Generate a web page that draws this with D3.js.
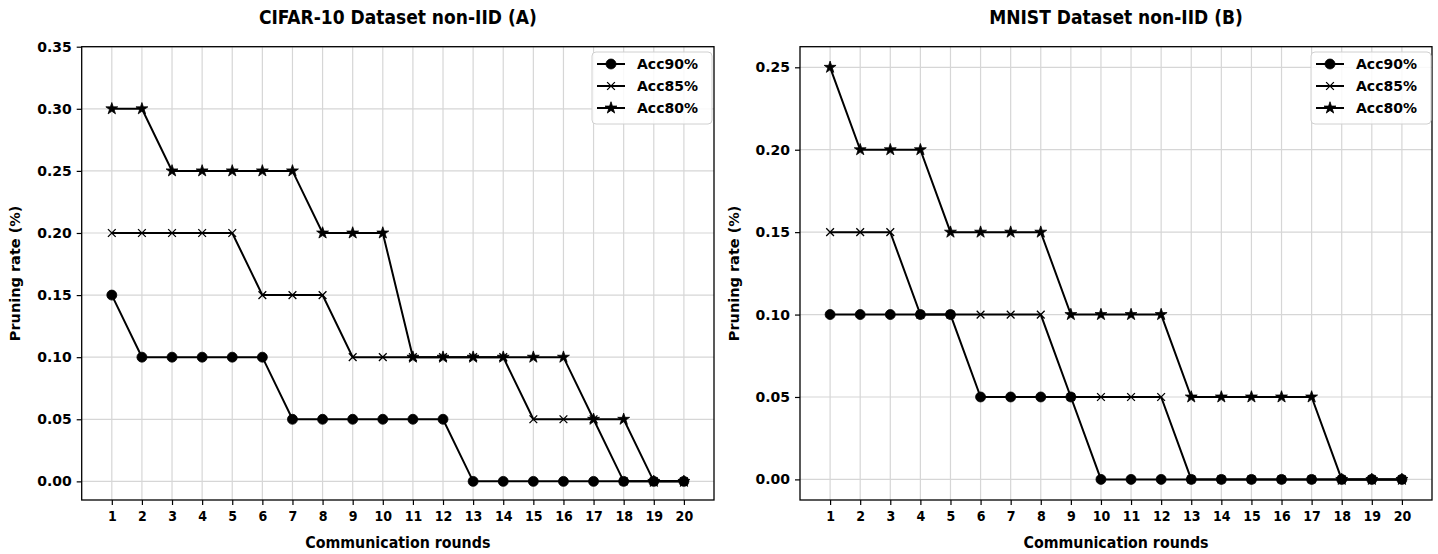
<!DOCTYPE html>
<html>
<head>
<meta charset="utf-8">
<script src="https://cdn.jsdelivr.net/npm/d3@7"></script>
<style>
  body { margin: 0; background: #fff; }
  text { font-family: 'DejaVu Sans', sans-serif; font-weight: bold; fill: #000; }
</style>
</head>
<body>
<div class="chart"></div>
<script>
const svgWidth = 1438;
const svgHeight = 554;

const rounds = [1, 2, 3, 4, 5, 6, 7, 8, 9, 10, 11, 12, 13, 14, 15, 16, 17, 18, 19, 20];
const seriesNames = ['Acc90%', 'Acc85%', 'Acc80%'];

// CIFAR-10 (A)
const cifarAcc90 = [0.15, 0.10, 0.10, 0.10, 0.10, 0.10, 0.05, 0.05, 0.05, 0.05, 0.05, 0.05, 0, 0, 0, 0, 0, 0, 0, 0];
const cifarAcc85 = [0.20, 0.20, 0.20, 0.20, 0.20, 0.15, 0.15, 0.15, 0.10, 0.10, 0.10, 0.10, 0.10, 0.10, 0.05, 0.05, 0.05, 0, 0, 0];
const cifarAcc80 = [0.30, 0.30, 0.25, 0.25, 0.25, 0.25, 0.25, 0.20, 0.20, 0.20, 0.10, 0.10, 0.10, 0.10, 0.10, 0.10, 0.05, 0.05, 0, 0];
const cifarTicks = [0, 0.05, 0.10, 0.15, 0.20, 0.25, 0.30, 0.35];

// MNIST (B)
const mnistAcc90 = [0.10, 0.10, 0.10, 0.10, 0.10, 0.05, 0.05, 0.05, 0.05, 0, 0, 0, 0, 0, 0, 0, 0, 0, 0, 0];
const mnistAcc85 = [0.15, 0.15, 0.15, 0.10, 0.10, 0.10, 0.10, 0.10, 0.05, 0.05, 0.05, 0.05, 0, 0, 0, 0, 0, 0, 0, 0];
const mnistAcc80 = [0.25, 0.20, 0.20, 0.20, 0.15, 0.15, 0.15, 0.15, 0.10, 0.10, 0.10, 0.10, 0.05, 0.05, 0.05, 0.05, 0.05, 0, 0, 0];
const mnistTicks = [0, 0.05, 0.10, 0.15, 0.20, 0.25];

const gridColor = '#d6d6d6';
const condensed = "'DejaVu Sans Condensed', 'DejaVu Sans', sans-serif";

// custom "x" marker
const symbolCross = {
  draw(ctx, size) {
    const r = Math.sqrt(size) / 2;
    ctx.moveTo(-r, -r); ctx.lineTo(r, r);
    ctx.moveTo(-r, r); ctx.lineTo(r, -r);
  }
};
const markers = [
  { type: d3.symbolCircle, size: 78, fill: true },
  { type: symbolCross, size: 60, fill: false },
  { type: d3.symbolStar, size: 44, fill: true }
];

const svg = d3.select('.chart')
  .append('svg')
  .attr('width', svgWidth)
  .attr('height', svgHeight);

function drawMarker(g, m, x, y) {
  g.append('path')
    .attr('transform', `translate(${x},${y})`)
    .attr('d', d3.symbol().type(m.type).size(m.size)())
    .attr('fill', m.fill ? '#000' : 'none')
    .attr('stroke', '#000')
    .attr('stroke-width', m.fill ? 0.8 : 1.3);
}

function drawPanel(opts) {
  const { left, right, top, bottom, title, yDomain, yTicks, series, legendX, yLabelX } = opts;

  const xScale = d3.scaleLinear().domain([0, 21]).range([left, right]);
  const yScale = d3.scaleLinear().domain(yDomain).range([bottom, top]);

  const g = svg.append('g');

  // grid
  g.append('g').selectAll('line')
    .data(rounds)
    .join('line')
    .attr('x1', d => xScale(d)).attr('x2', d => xScale(d))
    .attr('y1', top).attr('y2', bottom)
    .attr('stroke', gridColor).attr('stroke-width', 1.2);
  g.append('g').selectAll('line')
    .data(yTicks)
    .join('line')
    .attr('x1', left).attr('x2', right)
    .attr('y1', d => yScale(d)).attr('y2', d => yScale(d))
    .attr('stroke', gridColor).attr('stroke-width', 1.2);

  // axes
  const xAxis = g.append('g')
    .attr('transform', `translate(0, ${bottom})`)
    .call(d3.axisBottom(xScale).tickValues(rounds).tickFormat(d3.format('d')).tickSize(5).tickPadding(6));
  xAxis.select('.domain').remove();
  xAxis.selectAll('text').attr('font-size', 14).style('font-family', condensed);

  const yAxis = g.append('g')
    .attr('transform', `translate(${left}, 0)`)
    .call(d3.axisLeft(yScale).tickValues(yTicks).tickFormat(d3.format('.2f')).tickSize(5).tickPadding(5));
  yAxis.select('.domain').remove();
  yAxis.selectAll('text').attr('font-size', 14);
  g.selectAll('.tick line').attr('stroke', '#000').attr('stroke-width', 1.2);

  // series
  const line = d3.line()
    .x((d, i) => xScale(rounds[i]))
    .y(d => yScale(d));
  series.forEach((values, si) => {
    g.append('path')
      .datum(values)
      .attr('d', line)
      .attr('fill', 'none')
      .attr('stroke', '#000')
      .attr('stroke-width', 2);
    values.forEach((v, i) => drawMarker(g, markers[si], xScale(rounds[i]), yScale(v)));
  });

  // frame
  g.append('rect')
    .attr('x', left).attr('y', top)
    .attr('width', right - left).attr('height', bottom - top)
    .attr('fill', 'none').attr('stroke', '#000').attr('stroke-width', 1.3);

  // title and labels
  g.append('text')
    .attr('x', (left + right) / 2).attr('y', 24)
    .attr('text-anchor', 'middle')
    .attr('font-size', 19)
    .style('font-family', condensed)
    .text(title);
  g.append('text')
    .attr('x', (left + right) / 2).attr('y', 548)
    .attr('text-anchor', 'middle')
    .attr('font-size', 15.8)
    .style('font-family', condensed)
    .text('Communication rounds');
  g.append('text')
    .attr('transform', `translate(${yLabelX}, ${(top + bottom) / 2}) rotate(-90)`)
    .attr('text-anchor', 'middle')
    .attr('font-size', 14.5)
    .text('Pruning rate (%)');

  // legend
  const lg = g.append('g').attr('transform', `translate(${legendX}, 52)`);
  lg.append('rect')
    .attr('width', 120).attr('height', 72)
    .attr('rx', 4)
    .attr('fill', '#fff').attr('fill-opacity', 0.85)
    .attr('stroke', '#d0d0d0');
  seriesNames.forEach((name, i) => {
    const cy = 12 + i * 22;
    lg.append('line')
      .attr('x1', 5).attr('x2', 33).attr('y1', cy).attr('y2', cy)
      .attr('stroke', '#000').attr('stroke-width', 2);
    drawMarker(lg, markers[i], 19, cy);
    lg.append('text')
      .attr('x', 45).attr('y', cy + 5)
      .attr('font-size', 14)
      .text(name);
  });
}

drawPanel({
  left: 81.7, right: 714, top: 46.7, bottom: 500,
  title: 'CIFAR-10 Dataset non-IID (A)',
  yDomain: [-0.015, 0.35],
  yTicks: cifarTicks,
  series: [cifarAcc90, cifarAcc85, cifarAcc80],
  legendX: 592,
  yLabelX: 20
});

drawPanel({
  left: 800, right: 1432, top: 46.7, bottom: 500,
  title: 'MNIST Dataset non-IID (B)',
  yDomain: [-0.0125, 0.2625],
  yTicks: mnistTicks,
  series: [mnistAcc90, mnistAcc85, mnistAcc80],
  legendX: 1311,
  yLabelX: 739
});
</script>
</body>
</html>
